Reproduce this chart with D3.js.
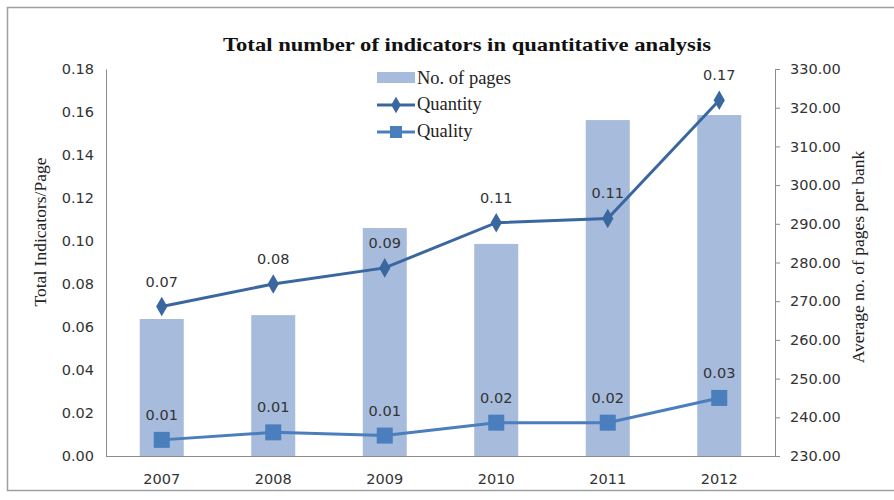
<!DOCTYPE html>
<html><head><meta charset="utf-8">
<script src="https://cdn.jsdelivr.net/npm/d3@7"></script>
<style>body{margin:0;background:#fff}svg{display:block}</style>
</head><body>
<svg id="c" width="894" height="500"></svg>
<script>
const years = ["2007","2008","2009","2010","2011","2012"];
const pages = [265.4, 266.4, 288.9, 284.8, 316.8, 318.1];
const quantity = [0.0695, 0.0800, 0.0875, 0.1085, 0.1105, 0.1655];
const quality = [0.0075, 0.0110, 0.0095, 0.0155, 0.0155, 0.0270];
const leftTicks = [0,0.02,0.04,0.06,0.08,0.10,0.12,0.14,0.16,0.18];
const rightTicks = [230,240,250,260,270,280,290,300,310,320,330];
const seriesNames = ["No. of pages","Quantity","Quality"];

const svg = d3.select("#c");
const L = 106, R = 775, T = 69, B = 456;
const colBar = "#A7BBDD", colQt = "#3A67A0", colQl = "#4A7EBC";
const sans = "DejaVu Sans", serif = "Liberation Serif";

svg.append("rect").attr("x",7.5).attr("y",7.5).attr("width",900).attr("height",483)
  .attr("fill","#fff").attr("stroke","#a0a0a0").attr("stroke-width",1.5);

const x = d3.scaleBand().domain(years).range([L,R]);
const yL = d3.scaleLinear().domain([0,0.18]).range([B,T]);
const yR = d3.scaleLinear().domain([230,330]).range([B,T]);

// bars
svg.append("g").selectAll("rect").data(years).join("rect")
  .attr("x", d => x(d) + x.bandwidth()/2 - 22)
  .attr("width", 44)
  .attr("y", (d,i) => yR(pages[i]))
  .attr("height", (d,i) => B - yR(pages[i]))
  .attr("fill", colBar);

// axes
const axL = svg.append("g").attr("transform",`translate(${L},0)`)
  .call(d3.axisLeft(yL).tickValues(leftTicks).tickSize(0).tickPadding(12).tickFormat(d3.format(".2f")));
const axR = svg.append("g").attr("transform",`translate(${R},0)`)
  .call(d3.axisRight(yR).tickValues(rightTicks).tickSize(5).tickPadding(10).tickFormat(d3.format(".2f")));
const axB = svg.append("g").attr("transform",`translate(0,${B})`)
  .call(d3.axisBottom(x).tickSize(0).tickPadding(18));
[axL,axR,axB].forEach(a => {
  a.select(".domain").attr("stroke","#8c8c8c");
  a.selectAll(".tick line").attr("stroke","#8c8c8c");
  a.selectAll("text").attr("font-family",sans).attr("font-size",14.5).attr("fill","#333");
});
axB.select(".domain").attr("d",`M${L},0.5H${R+5}`);

// lines
const lineQt = d3.line().x((d,i)=>x(years[i])+x.bandwidth()/2).y(d=>yL(d));
svg.append("path").datum(quantity).attr("d",lineQt).attr("fill","none").attr("stroke",colQt).attr("stroke-width",3);
svg.append("path").datum(quality).attr("d",lineQt).attr("fill","none").attr("stroke",colQl).attr("stroke-width",3);

const diamond = d3.symbol().type(d3.symbolDiamond).size(110);
svg.append("g").selectAll("path").data(quantity).join("path")
  .attr("d",diamond).attr("fill",colQt)
  .attr("transform",(d,i)=>`translate(${x(years[i])+x.bandwidth()/2},${yL(d)})`);
svg.append("g").selectAll("rect").data(quality).join("rect")
  .attr("x",(d,i)=>x(years[i])+x.bandwidth()/2-8).attr("y",d=>yL(d)-8)
  .attr("width",16).attr("height",16).attr("fill",colQl);

// data labels
const fmt = d3.format(".2f");
[quantity, quality].forEach(arr => {
  svg.append("g").selectAll("text").data(arr).join("text")
    .attr("x",(d,i)=>x(years[i])+x.bandwidth()/2)
    .attr("y",d=>yL(d)-20)
    .attr("text-anchor","middle").attr("font-family",sans).attr("font-size",14.5).attr("fill","#333")
    .text(d=>fmt(d));
});

// title
svg.append("text").attr("x",467).attr("y",51).attr("text-anchor","middle")
  .attr("font-family",serif).attr("font-weight","bold").attr("font-size",19).attr("fill","#111")
  .attr("textLength",488).attr("lengthAdjust","spacingAndGlyphs")
  .text("Total number of indicators in quantitative analysis");

// axis titles
svg.append("text").attr("transform","translate(46,232) rotate(-90)").attr("text-anchor","middle")
  .attr("font-family",serif).attr("font-size",17.5).attr("fill","#222").text("Total Indicators/Page");
svg.append("text").attr("transform","translate(864,257) rotate(-90)").attr("text-anchor","middle")
  .attr("font-family",serif).attr("font-size",17.5).attr("fill","#222")
  .text("Average no. of pages per bank");

// legend
const lg = svg.append("g").attr("font-family",serif).attr("font-size",18.5).attr("fill","#222");
lg.append("rect").attr("x",377).attr("y",72).attr("width",38).attr("height",11).attr("fill",colBar);
lg.append("line").attr("x1",377).attr("x2",415).attr("y1",105).attr("y2",105).attr("stroke",colQt).attr("stroke-width",3);
lg.append("path").attr("d",d3.symbol().type(d3.symbolDiamond).size(80)).attr("fill",colQt).attr("transform","translate(396,105)");
lg.append("line").attr("x1",377).attr("x2",415).attr("y1",132).attr("y2",132).attr("stroke",colQl).attr("stroke-width",3);
lg.append("rect").attr("x",390).attr("y",126).attr("width",12).attr("height",12).attr("fill",colQl);
[84,110,137].forEach((yy,i)=>{
  lg.append("text").attr("x",417).attr("y",yy).text(seriesNames[i]);
});
</script>
</body></html>
